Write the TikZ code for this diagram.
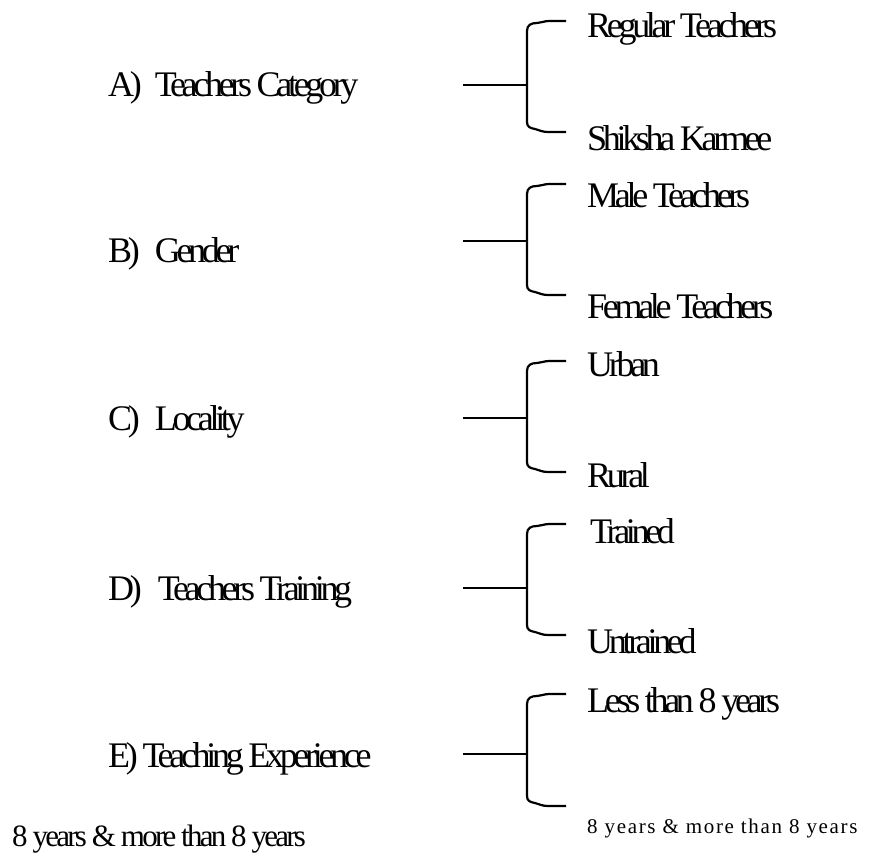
\documentclass[tikz,border=0pt]{standalone}
\usepackage{fontspec}
\setmainfont{Liberation Serif}
\newfontfamily\condfont{Liberation Serif}[LetterSpace=-12]
\newfontfamily\condbfont{Liberation Serif}[LetterSpace=-9]
\newfontfamily\widefont{Liberation Serif}[LetterSpace=8]
\newcommand\mybrace[4]{%
  \coordinate (s#4) at (463,#1);
  \coordinate (j#4) at (527,#1);
  \coordinate (t#4) at (566,#2);
  \coordinate (b#4) at (566,#3);
  \draw[brk] (s#4) -- (j#4);
  \draw[brk] (t#4) -- (549,#2) .. controls (544,#2) and (541,#2+2) .. (537,#2+2)
    .. controls (531,#2+2) and (527,#2+4) .. (527,#2+10) -- (527,#3-10)
    .. controls (527,#3-5) and (530,#3-4) .. (535,#3-3)
    .. controls (539,#3-2) and (542,#3) .. (548,#3) -- (b#4);
}
\begin{document}
\begin{tikzpicture}[x=1pt,y=-1pt,
  lbl/.style={anchor=base west, inner sep=0pt, font=\condfont\fontsize{36}{40}\selectfont},
  small/.style={anchor=base west, inner sep=0pt, font=\widefont\fontsize{21}{24}\selectfont},
  foot/.style={anchor=base west, inner sep=0pt, font=\condbfont\fontsize{31}{34}\selectfont},
  brk/.style={line width=2.2pt, line join=round, line cap=butt}]
\useasboundingbox (0,0) rectangle (869,857);
% A
\node[lbl] (la) at (108,96) {A)\hspace{13pt}Teachers Category};
\mybrace{85}{21}{132}{a}
\node[lbl] (a1) at (587,37) {Regular Teachers};
\node[lbl] (a2) at (587,150) {Shiksha Karmee};
% B
\node[lbl] (lb) at (108,262) {B)\hspace{15pt}Gender};
\mybrace{241}{184}{295}{b}
\node[lbl] (b1) at (587,207) {Male Teachers};
\node[lbl] (b2) at (587,318) {Female Teachers};
% C
\node[lbl] (lc) at (108,430) {C)\hspace{15pt}Locality};
\mybrace{418}{361}{472}{c}
\node[lbl] (c1) at (587,376) {Urban};
\node[lbl] (c2) at (587,487) {Rural};
% D
\node[lbl] (ld) at (108,600) {D)\hspace{16pt}Teachers Training};
\mybrace{588}{524}{635}{d}
\node[lbl] (d1) at (590,543) {Trained};
\node[lbl] (d2) at (587,653) {Untrained};
% E
\node[lbl] (le) at (108,767) {E) Teaching Experience};
\mybrace{754}{694}{806}{e}
\node[lbl] (e1) at (587,712) {Less than 8 years};
\node[small] (e2) at (587,833) {8 years \& more than 8 years};
\node[foot] (ft) at (12,846) {8 years \& more than 8 years};
\end{tikzpicture}
\end{document}
